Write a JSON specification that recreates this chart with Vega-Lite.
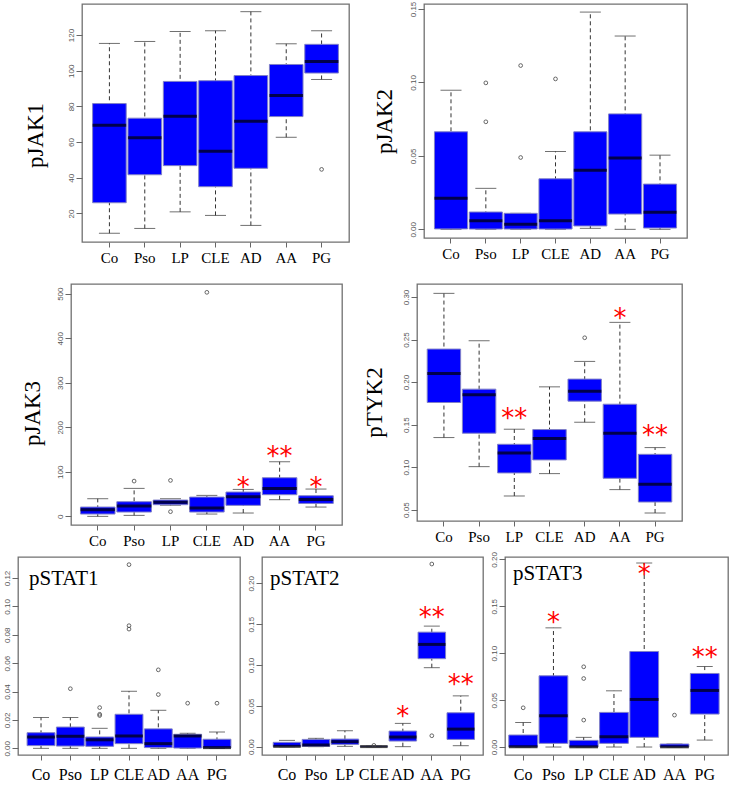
{
"$schema": "https://vega.github.io/schema/vega-lite/v6.json",
"padding": {"left": 2, "top": 0, "right": 2, "bottom": 2},
"background": "white",
"spacing": 1,
"config": {
  "view": {"stroke": "#707070", "strokeWidth": 1.3},
  "axisX": {"domain": false, "tickSize": 5, "tickColor": "#666666", "labelFont": "Liberation Serif", "labelFontSize": 15, "labelColor": "#000000", "labelAngle": 0, "labelPadding": 3, "grid": false},
  "axisY": {"domain": false, "tickSize": 6, "tickColor": "#666666", "labelAngle": -90, "labelFont": "Liberation Sans", "labelFontSize": 8, "labelColor": "#555555", "labelPadding": 1, "grid": false, "titleFont": "Liberation Serif", "titleFontSize": 23, "titleFontWeight": "normal", "titleColor": "#000000", "titleBaseline": "middle", "titleAlign": "center", "titleAngle": -90}
},
"datasets": {
  "boxes": [
    {"panel":"pJAK1","group":"Co","lo":8.9,"q1":26,"med":69.4,"q3":81.6,"hi":115.3},
    {"panel":"pJAK1","group":"Pso","lo":11.6,"q1":41.7,"med":62.5,"q3":73.4,"hi":116.4},
    {"panel":"pJAK1","group":"LP","lo":20.9,"q1":46.8,"med":74.5,"q3":94,"hi":122},
    {"panel":"pJAK1","group":"CLE","lo":18.9,"q1":35,"med":54.8,"q3":94.4,"hi":122.4},
    {"panel":"pJAK1","group":"AD","lo":13.3,"q1":45.3,"med":71.7,"q3":97.3,"hi":133.1},
    {"panel":"pJAK1","group":"AA","lo":62.7,"q1":74.3,"med":86.1,"q3":103.5,"hi":115.1},
    {"panel":"pJAK1","group":"PG","lo":95.1,"q1":98.7,"med":105.2,"q3":114.8,"hi":122.4},
    {"panel":"pJAK2","group":"Co","lo":0,"q1":0.0003,"med":0.0211,"q3":0.0664,"hi":0.0947},
    {"panel":"pJAK2","group":"Pso","lo":0,"q1":0.0002,"med":0.0059,"q3":0.0118,"hi":0.0279},
    {"panel":"pJAK2","group":"LP","lo":0,"q1":0.0002,"med":0.0034,"q3":0.0109,"hi":0.0109},
    {"panel":"pJAK2","group":"CLE","lo":0,"q1":0.0002,"med":0.0059,"q3":0.0344,"hi":0.053},
    {"panel":"pJAK2","group":"AD","lo":0.0007,"q1":0.0023,"med":0.0403,"q3":0.0664,"hi":0.1479},
    {"panel":"pJAK2","group":"AA","lo":0,"q1":0.0104,"med":0.0485,"q3":0.0786,"hi":0.1316},
    {"panel":"pJAK2","group":"PG","lo":0,"q1":0.0009,"med":0.0116,"q3":0.0308,"hi":0.0505},
    {"panel":"pJAK3","group":"Co","lo":0,"q1":5.2,"med":14.9,"q3":20.9,"hi":39.6},
    {"panel":"pJAK3","group":"Pso","lo":2.2,"q1":9.7,"med":23.2,"q3":32.9,"hi":62.8},
    {"panel":"pJAK3","group":"LP","lo":25,"q1":26.2,"med":31.4,"q3":36.6,"hi":39.6},
    {"panel":"pJAK3","group":"CLE","lo":5.2,"q1":9.7,"med":18.7,"q3":43.3,"hi":47.1},
    {"panel":"pJAK3","group":"AD","lo":7.5,"q1":24.7,"med":44.1,"q3":54.6,"hi":60.5},
    {"panel":"pJAK3","group":"AA","lo":37.4,"q1":48.6,"med":62.8,"q3":86.7,"hi":122.6},
    {"panel":"pJAK3","group":"PG","lo":20.9,"q1":29.1,"med":38.1,"q3":46.3,"hi":61.3},
    {"panel":"pTYK2","group":"Co","lo":0.1348,"q1":0.176,"med":0.2101,"q3":0.2388,"hi":0.3043},
    {"panel":"pTYK2","group":"Pso","lo":0.1006,"q1":0.1399,"med":0.185,"q3":0.1917,"hi":0.2486},
    {"panel":"pTYK2","group":"LP","lo":0.0661,"q1":0.0932,"med":0.1167,"q3":0.1269,"hi":0.1446},
    {"panel":"pTYK2","group":"CLE","lo":0.0924,"q1":0.1085,"med":0.1336,"q3":0.1442,"hi":0.1944},
    {"panel":"pTYK2","group":"AD","lo":0.1528,"q1":0.1776,"med":0.1893,"q3":0.2035,"hi":0.2243},
    {"panel":"pTYK2","group":"AA","lo":0.0736,"q1":0.0869,"med":0.1399,"q3":0.174,"hi":0.2702},
    {"panel":"pTYK2","group":"PG","lo":0.0461,"q1":0.059,"med":0.0798,"q3":0.1151,"hi":0.123},
    {"panel":"pSTAT1","group":"Co","lo":0,"q1":0.0019,"med":0.008,"q3":0.011,"hi":0.0217},
    {"panel":"pSTAT1","group":"Pso","lo":0,"q1":0.0016,"med":0.0085,"q3":0.015,"hi":0.0217},
    {"panel":"pSTAT1","group":"LP","lo":0,"q1":0.0014,"med":0.006,"q3":0.008,"hi":0.0141},
    {"panel":"pSTAT1","group":"CLE","lo":0,"q1":0.0033,"med":0.0087,"q3":0.024,"hi":0.0402},
    {"panel":"pSTAT1","group":"AD","lo":0,"q1":0.0005,"med":0.0033,"q3":0.0137,"hi":0.0268},
    {"panel":"pSTAT1","group":"AA","lo":0,"q1":0.0002,"med":0.0087,"q3":0.0099,"hi":0.0106},
    {"panel":"pSTAT1","group":"PG","lo":0,"q1":0.0002,"med":0.0005,"q3":0.0064,"hi":0.0115},
    {"panel":"pSTAT2","group":"Co","lo":0,"q1":0,"med":0.0004,"q3":0.0053,"hi":0.0077},
    {"panel":"pSTAT2","group":"Pso","lo":0,"q1":0.0002,"med":0.002,"q3":0.0089,"hi":0.0102},
    {"panel":"pSTAT2","group":"LP","lo":0.0004,"q1":0.0028,"med":0.0061,"q3":0.0093,"hi":0.0195},
    {"panel":"pSTAT2","group":"CLE","lo":0,"q1":0,"med":0.0001,"q3":0.0005,"hi":0.0005},
    {"panel":"pSTAT2","group":"AD","lo":0,"q1":0.0069,"med":0.0118,"q3":0.0191,"hi":0.0285},
    {"panel":"pSTAT2","group":"AA","lo":0.0967,"q1":0.1077,"med":0.1252,"q3":0.1402,"hi":0.1476},
    {"panel":"pSTAT2","group":"PG","lo":0.0012,"q1":0.0089,"med":0.0215,"q3":0.0415,"hi":0.0622},
    {"panel":"pSTAT3","group":"Co","lo":0,"q1":0,"med":0.0002,"q3":0.0128,"hi":0.0262},
    {"panel":"pSTAT3","group":"Pso","lo":0,"q1":0.0039,"med":0.0333,"q3":0.0759,"hi":0.127},
    {"panel":"pSTAT3","group":"LP","lo":0,"q1":0,"med":0.0002,"q3":0.0071,"hi":0.0103},
    {"panel":"pSTAT3","group":"CLE","lo":0,"q1":0.0039,"med":0.011,"q3":0.0369,"hi":0.0599},
    {"panel":"pSTAT3","group":"AD","lo":0,"q1":0.0103,"med":0.0507,"q3":0.1018,"hi":0.1961},
    {"panel":"pSTAT3","group":"AA","lo":0,"q1":0,"med":0.0002,"q3":0.0032,"hi":0.0032},
    {"panel":"pSTAT3","group":"PG","lo":0.0074,"q1":0.0351,"med":0.0603,"q3":0.0784,"hi":0.0858}
  ],
  "outliers": [
    {"panel":"pJAK1","group":"PG","v":44.7},
    {"panel":"pJAK2","group":"Pso","v":0.0997},
    {"panel":"pJAK2","group":"Pso","v":0.0732},
    {"panel":"pJAK2","group":"LP","v":0.1115},
    {"panel":"pJAK2","group":"LP","v":0.0489},
    {"panel":"pJAK2","group":"CLE","v":0.1024},
    {"panel":"pJAK3","group":"Pso","v":79.2},
    {"panel":"pJAK3","group":"LP","v":80.7},
    {"panel":"pJAK3","group":"LP","v":10.5},
    {"panel":"pJAK3","group":"CLE","v":503},
    {"panel":"pTYK2","group":"AD","v":0.2521},
    {"panel":"pSTAT1","group":"Pso","v":0.042},
    {"panel":"pSTAT1","group":"LP","v":0.0287},
    {"panel":"pSTAT1","group":"LP","v":0.024},
    {"panel":"pSTAT1","group":"LP","v":0.0231},
    {"panel":"pSTAT1","group":"CLE","v":0.1294},
    {"panel":"pSTAT1","group":"CLE","v":0.0864},
    {"panel":"pSTAT1","group":"CLE","v":0.084},
    {"panel":"pSTAT1","group":"AD","v":0.0553},
    {"panel":"pSTAT1","group":"AD","v":0.0379},
    {"panel":"pSTAT1","group":"AA","v":0.0318},
    {"panel":"pSTAT1","group":"PG","v":0.0318},
    {"panel":"pSTAT2","group":"CLE","v":0.0016},
    {"panel":"pSTAT2","group":"AA","v":0.2236},
    {"panel":"pSTAT2","group":"AA","v":0.0134},
    {"panel":"pSTAT3","group":"Co","v":0.0418},
    {"panel":"pSTAT3","group":"LP","v":0.0855},
    {"panel":"pSTAT3","group":"LP","v":0.073},
    {"panel":"pSTAT3","group":"LP","v":0.0287},
    {"panel":"pSTAT3","group":"AA","v":0.034}
  ],
  "stars": [
    {"panel":"pJAK3","group":"AD","v":80,"label":"*"},
    {"panel":"pJAK3","group":"AA","v":150,"label":"**"},
    {"panel":"pJAK3","group":"PG","v":80,"label":"*"},
    {"panel":"pTYK2","group":"LP","v":0.165,"label":"**"},
    {"panel":"pTYK2","group":"AA","v":0.2827,"label":"*"},
    {"panel":"pTYK2","group":"PG","v":0.145,"label":"**"},
    {"panel":"pSTAT2","group":"AD","v":0.0447,"label":"*"},
    {"panel":"pSTAT2","group":"AA","v":0.1667,"label":"**"},
    {"panel":"pSTAT2","group":"PG","v":0.0841,"label":"**"},
    {"panel":"pSTAT3","group":"Pso","v":0.1397,"label":"*"},
    {"panel":"pSTAT3","group":"AD","v":0.1908,"label":"*"},
    {"panel":"pSTAT3","group":"PG","v":0.1025,"label":"**"}
  ]
},
"vconcat": [
 {"spacing": 3, "hconcat": [
  {"width": 2, "height": 278, "data": {"values": []}, "mark": {"type": "point", "opacity": 0}, "view": {"fill": "transparent", "stroke": null}},
  {"bounds": "flush", "spacing": 75, "hconcat": [
    {"width": 267, "height": 238, "data": {"name": "boxes"}, "transform": [{"filter": "datum.panel === 'pJAK1'"}],
     "encoding": {"x": {"field": "group", "type": "nominal", "sort": ["Co","Pso","LP","CLE","AD","AA","PG"], "scale": {"domain": ["Co","Pso","LP","CLE","AD","AA","PG"], "paddingInner": 0.05, "paddingOuter": 0.3, "align": 0.5}, "axis": {"title": null}}},
     "layer": [
      {"mark": {"type": "rule", "strokeDash": [4,3], "color": "#333333", "strokeWidth": 1}, "encoding": {"y": {"field": "lo", "type": "quantitative", "scale": {"domain": [4,137.4], "nice": false, "zero": false}, "axis": {"values": [20,40,60,80,100,120], "title": "pJAK1", "titleX": -47, "titleY": 131}}, "y2": {"field": "hi"}}},
      {"mark": {"type": "tick", "color": "#333333", "size": 21, "thickness": 1}, "encoding": {"y": {"field": "lo", "type": "quantitative", "scale": {"domain": [4,137.4], "nice": false, "zero": false}, "axis": {"values": [20,40,60,80,100,120], "title": "pJAK1", "titleX": -47, "titleY": 131}}}},
      {"mark": {"type": "tick", "color": "#333333", "size": 21, "thickness": 1}, "encoding": {"y": {"field": "hi", "type": "quantitative", "scale": {"domain": [4,137.4], "nice": false, "zero": false}, "axis": {"values": [20,40,60,80,100,120], "title": "pJAK1", "titleX": -47, "titleY": 131}}}},
      {"mark": {"type": "bar", "fill": "#0000FF", "stroke": "#8080c8", "strokeWidth": 1}, "encoding": {"y": {"field": "q1", "type": "quantitative", "scale": {"domain": [4,137.4], "nice": false, "zero": false}, "axis": {"values": [20,40,60,80,100,120], "title": "pJAK1", "titleX": -47, "titleY": 131}}, "y2": {"field": "q3"}}},
      {"mark": {"type": "tick", "color": "#000000", "size": 33.6, "thickness": 3}, "encoding": {"y": {"field": "med", "type": "quantitative", "scale": {"domain": [4,137.4], "nice": false, "zero": false}, "axis": {"values": [20,40,60,80,100,120], "title": "pJAK1", "titleX": -47, "titleY": 131}}}},
      {"data": {"name": "outliers"}, "transform": [{"filter": "datum.panel === 'pJAK1'"}], "mark": {"type": "point", "shape": "circle", "filled": false, "color": "#444444", "size": 14, "strokeWidth": 0.8, "opacity": 1}, "encoding": {"y": {"field": "v", "type": "quantitative", "scale": {"domain": [4,137.4], "nice": false, "zero": false}, "axis": {"values": [20,40,60,80,100,120], "title": "pJAK1", "titleX": -47, "titleY": 131}}}}
     ]},
    {"width": 263, "height": 234, "data": {"name": "boxes"}, "transform": [{"filter": "datum.panel === 'pJAK2'"}],
     "encoding": {"x": {"field": "group", "type": "nominal", "sort": ["Co","Pso","LP","CLE","AD","AA","PG"], "scale": {"domain": ["Co","Pso","LP","CLE","AD","AA","PG"], "paddingInner": 0.05, "paddingOuter": 0.3, "align": 0.5}, "axis": {"title": null}}},
     "layer": [
      {"mark": {"type": "rule", "strokeDash": [4,3], "color": "#333333", "strokeWidth": 1}, "encoding": {"y": {"field": "lo", "type": "quantitative", "scale": {"domain": [-0.0059,0.1534], "nice": false, "zero": false}, "axis": {"values": [0,0.05,0.1,0.15], "format": ".2f", "title": "pJAK2", "titleX": -40, "titleY": 117}}, "y2": {"field": "hi"}}},
      {"mark": {"type": "tick", "color": "#333333", "size": 21, "thickness": 1}, "encoding": {"y": {"field": "lo", "type": "quantitative", "scale": {"domain": [-0.0059,0.1534], "nice": false, "zero": false}, "axis": {"values": [0,0.05,0.1,0.15], "format": ".2f", "title": "pJAK2", "titleX": -40, "titleY": 117}}}},
      {"mark": {"type": "tick", "color": "#333333", "size": 21, "thickness": 1}, "encoding": {"y": {"field": "hi", "type": "quantitative", "scale": {"domain": [-0.0059,0.1534], "nice": false, "zero": false}, "axis": {"values": [0,0.05,0.1,0.15], "format": ".2f", "title": "pJAK2", "titleX": -40, "titleY": 117}}}},
      {"mark": {"type": "bar", "fill": "#0000FF", "stroke": "#8080c8", "strokeWidth": 1}, "encoding": {"y": {"field": "q1", "type": "quantitative", "scale": {"domain": [-0.0059,0.1534], "nice": false, "zero": false}, "axis": {"values": [0,0.05,0.1,0.15], "format": ".2f", "title": "pJAK2", "titleX": -40, "titleY": 117}}, "y2": {"field": "q3"}}},
      {"mark": {"type": "tick", "color": "#000000", "size": 33.1, "thickness": 3}, "encoding": {"y": {"field": "med", "type": "quantitative", "scale": {"domain": [-0.0059,0.1534], "nice": false, "zero": false}, "axis": {"values": [0,0.05,0.1,0.15], "format": ".2f", "title": "pJAK2", "titleX": -40, "titleY": 117}}}},
      {"data": {"name": "outliers"}, "transform": [{"filter": "datum.panel === 'pJAK2'"}], "mark": {"type": "point", "shape": "circle", "filled": false, "color": "#444444", "size": 14, "strokeWidth": 0.8, "opacity": 1}, "encoding": {"y": {"field": "v", "type": "quantitative", "scale": {"domain": [-0.0059,0.1534], "nice": false, "zero": false}, "axis": {"values": [0,0.05,0.1,0.15], "format": ".2f", "title": "pJAK2", "titleX": -40, "titleY": 117}}}}
     ]}
  ]}
 ]},
 {"spacing": 1, "hconcat": [
  {"width": 1, "height": 265, "data": {"values": []}, "mark": {"type": "point", "opacity": 0}, "view": {"fill": "transparent", "stroke": null}},
  {"bounds": "flush", "spacing": 75, "hconcat": [
    {"width": 271, "height": 241, "data": {"name": "boxes"}, "transform": [{"filter": "datum.panel === 'pJAK3'"}],
     "encoding": {"x": {"field": "group", "type": "nominal", "sort": ["Co","Pso","LP","CLE","AD","AA","PG"], "scale": {"domain": ["Co","Pso","LP","CLE","AD","AA","PG"], "paddingInner": 0.05, "paddingOuter": 0.25, "align": 0.52}, "axis": {"title": null}}},
     "layer": [
      {"mark": {"type": "rule", "strokeDash": [4,3], "color": "#333333", "strokeWidth": 1}, "encoding": {"y": {"field": "lo", "type": "quantitative", "scale": {"domain": [-19.4,521.7], "nice": false, "zero": false}, "axis": {"values": [0,100,200,300,400,500], "title": "pJAK3", "titleX": -39, "titleY": 129}}, "y2": {"field": "hi"}}},
      {"mark": {"type": "tick", "color": "#333333", "size": 21, "thickness": 1}, "encoding": {"y": {"field": "lo", "type": "quantitative", "scale": {"domain": [-19.4,521.7], "nice": false, "zero": false}, "axis": {"values": [0,100,200,300,400,500], "title": "pJAK3", "titleX": -39, "titleY": 129}}}},
      {"mark": {"type": "tick", "color": "#333333", "size": 21, "thickness": 1}, "encoding": {"y": {"field": "hi", "type": "quantitative", "scale": {"domain": [-19.4,521.7], "nice": false, "zero": false}, "axis": {"values": [0,100,200,300,400,500], "title": "pJAK3", "titleX": -39, "titleY": 129}}}},
      {"mark": {"type": "bar", "fill": "#0000FF", "stroke": "#8080c8", "strokeWidth": 1}, "encoding": {"y": {"field": "q1", "type": "quantitative", "scale": {"domain": [-19.4,521.7], "nice": false, "zero": false}, "axis": {"values": [0,100,200,300,400,500], "title": "pJAK3", "titleX": -39, "titleY": 129}}, "y2": {"field": "q3"}}},
      {"mark": {"type": "tick", "color": "#000000", "size": 34.5, "thickness": 3}, "encoding": {"y": {"field": "med", "type": "quantitative", "scale": {"domain": [-19.4,521.7], "nice": false, "zero": false}, "axis": {"values": [0,100,200,300,400,500], "title": "pJAK3", "titleX": -39, "titleY": 129}}}},
      {"data": {"name": "outliers"}, "transform": [{"filter": "datum.panel === 'pJAK3'"}], "mark": {"type": "point", "shape": "circle", "filled": false, "color": "#444444", "size": 14, "strokeWidth": 0.8, "opacity": 1}, "encoding": {"y": {"field": "v", "type": "quantitative", "scale": {"domain": [-19.4,521.7], "nice": false, "zero": false}, "axis": {"values": [0,100,200,300,400,500], "title": "pJAK3", "titleX": -39, "titleY": 129}}}},
      {"data": {"name": "stars"}, "transform": [{"filter": "datum.panel === 'pJAK3'"}], "mark": {"type": "text", "font": "DejaVu Sans", "fontSize": 26, "color": "#FF0000", "baseline": "alphabetic", "dy": 15}, "encoding": {"y": {"field": "v", "type": "quantitative", "scale": {"domain": [-19.4,521.7], "nice": false, "zero": false}, "axis": {"values": [0,100,200,300,400,500], "title": "pJAK3", "titleX": -39, "titleY": 129}}, "text": {"field": "label"}}}
     ]},
    {"width": 265, "height": 237, "data": {"name": "boxes"}, "transform": [{"filter": "datum.panel === 'pTYK2'"}],
     "encoding": {"x": {"field": "group", "type": "nominal", "sort": ["Co","Pso","LP","CLE","AD","AA","PG"], "scale": {"domain": ["Co","Pso","LP","CLE","AD","AA","PG"], "paddingInner": 0.05, "paddingOuter": 0.29, "align": 0.5}, "axis": {"title": null}}},
     "layer": [
      {"mark": {"type": "rule", "strokeDash": [4,3], "color": "#333333", "strokeWidth": 1}, "encoding": {"y": {"field": "lo", "type": "quantitative", "scale": {"domain": [0.0367,0.3153], "nice": false, "zero": false}, "axis": {"values": [0.05,0.1,0.15,0.2,0.25,0.3], "format": ".2f", "title": "pTYK2", "titleX": -43, "titleY": 118}}, "y2": {"field": "hi"}}},
      {"mark": {"type": "tick", "color": "#333333", "size": 21, "thickness": 1}, "encoding": {"y": {"field": "lo", "type": "quantitative", "scale": {"domain": [0.0367,0.3153], "nice": false, "zero": false}, "axis": {"values": [0.05,0.1,0.15,0.2,0.25,0.3], "format": ".2f", "title": "pTYK2", "titleX": -43, "titleY": 118}}}},
      {"mark": {"type": "tick", "color": "#333333", "size": 21, "thickness": 1}, "encoding": {"y": {"field": "hi", "type": "quantitative", "scale": {"domain": [0.0367,0.3153], "nice": false, "zero": false}, "axis": {"values": [0.05,0.1,0.15,0.2,0.25,0.3], "format": ".2f", "title": "pTYK2", "titleX": -43, "titleY": 118}}}},
      {"mark": {"type": "bar", "fill": "#0000FF", "stroke": "#8080c8", "strokeWidth": 1}, "encoding": {"y": {"field": "q1", "type": "quantitative", "scale": {"domain": [0.0367,0.3153], "nice": false, "zero": false}, "axis": {"values": [0.05,0.1,0.15,0.2,0.25,0.3], "format": ".2f", "title": "pTYK2", "titleX": -43, "titleY": 118}}, "y2": {"field": "q3"}}},
      {"mark": {"type": "tick", "color": "#000000", "size": 33.4, "thickness": 3}, "encoding": {"y": {"field": "med", "type": "quantitative", "scale": {"domain": [0.0367,0.3153], "nice": false, "zero": false}, "axis": {"values": [0.05,0.1,0.15,0.2,0.25,0.3], "format": ".2f", "title": "pTYK2", "titleX": -43, "titleY": 118}}}},
      {"data": {"name": "outliers"}, "transform": [{"filter": "datum.panel === 'pTYK2'"}], "mark": {"type": "point", "shape": "circle", "filled": false, "color": "#444444", "size": 14, "strokeWidth": 0.8, "opacity": 1}, "encoding": {"y": {"field": "v", "type": "quantitative", "scale": {"domain": [0.0367,0.3153], "nice": false, "zero": false}, "axis": {"values": [0.05,0.1,0.15,0.2,0.25,0.3], "format": ".2f", "title": "pTYK2", "titleX": -43, "titleY": 118}}}},
      {"data": {"name": "stars"}, "transform": [{"filter": "datum.panel === 'pTYK2'"}], "mark": {"type": "text", "font": "DejaVu Sans", "fontSize": 26, "color": "#FF0000", "baseline": "alphabetic", "dy": 15}, "encoding": {"y": {"field": "v", "type": "quantitative", "scale": {"domain": [0.0367,0.3153], "nice": false, "zero": false}, "axis": {"values": [0.05,0.1,0.15,0.2,0.25,0.3], "format": ".2f", "title": "pTYK2", "titleX": -43, "titleY": 118}}, "text": {"field": "label"}}}
     ]}
  ]}
 ]},
 {"bounds": "flush", "spacing": 22, "hconcat": [
  {"width": 222, "height": 198, "data": {"name": "boxes"}, "transform": [{"filter": "datum.panel === 'pSTAT1'"}],
   "title": {"text": "pSTAT1", "anchor": "start", "frame": "group", "offset": -32, "dx": 11, "font": "Liberation Serif", "fontSize": 21, "fontWeight": "normal", "color": "#000000"},
   "encoding": {"x": {"field": "group", "type": "nominal", "sort": ["Co","Pso","LP","CLE","AD","AA","PG"], "scale": {"domain": ["Co","Pso","LP","CLE","AD","AA","PG"], "paddingInner": 0.05, "paddingOuter": 0.31, "align": 0.5}, "axis": {"title": null, "labelFontSize": 16, "labelPadding": 6}}},
   "layer": [
    {"mark": {"type": "rule", "strokeDash": [4,3], "color": "#333333", "strokeWidth": 1}, "encoding": {"y": {"field": "lo", "type": "quantitative", "scale": {"domain": [-0.0047,0.1348], "nice": false, "zero": false}, "axis": {"values": [0,0.02,0.04,0.06,0.08,0.1,0.12], "format": ".2f", "title": null}}, "y2": {"field": "hi"}}},
    {"mark": {"type": "tick", "color": "#333333", "size": 16, "thickness": 1}, "encoding": {"y": {"field": "lo", "type": "quantitative", "scale": {"domain": [-0.0047,0.1348], "nice": false, "zero": false}, "axis": {"values": [0,0.02,0.04,0.06,0.08,0.1,0.12], "format": ".2f", "title": null}}}},
    {"mark": {"type": "tick", "color": "#333333", "size": 16, "thickness": 1}, "encoding": {"y": {"field": "hi", "type": "quantitative", "scale": {"domain": [-0.0047,0.1348], "nice": false, "zero": false}, "axis": {"values": [0,0.02,0.04,0.06,0.08,0.1,0.12], "format": ".2f", "title": null}}}},
    {"mark": {"type": "bar", "fill": "#0000FF", "stroke": "#8080c8", "strokeWidth": 1}, "encoding": {"y": {"field": "q1", "type": "quantitative", "scale": {"domain": [-0.0047,0.1348], "nice": false, "zero": false}, "axis": {"values": [0,0.02,0.04,0.06,0.08,0.1,0.12], "format": ".2f", "title": null}}, "y2": {"field": "q3"}}},
    {"mark": {"type": "tick", "color": "#000000", "size": 27.9, "thickness": 3}, "encoding": {"y": {"field": "med", "type": "quantitative", "scale": {"domain": [-0.0047,0.1348], "nice": false, "zero": false}, "axis": {"values": [0,0.02,0.04,0.06,0.08,0.1,0.12], "format": ".2f", "title": null}}}},
    {"data": {"name": "outliers"}, "transform": [{"filter": "datum.panel === 'pSTAT1'"}], "mark": {"type": "point", "shape": "circle", "filled": false, "color": "#444444", "size": 14, "strokeWidth": 0.8, "opacity": 1}, "encoding": {"y": {"field": "v", "type": "quantitative", "scale": {"domain": [-0.0047,0.1348], "nice": false, "zero": false}, "axis": {"values": [0,0.02,0.04,0.06,0.08,0.1,0.12], "format": ".2f", "title": null}}}}
   ]},
  {"width": 221, "height": 198, "data": {"name": "boxes"}, "transform": [{"filter": "datum.panel === 'pSTAT2'"}],
   "title": {"text": "pSTAT2", "anchor": "start", "frame": "group", "offset": -32, "dx": 8, "font": "Liberation Serif", "fontSize": 21, "fontWeight": "normal", "color": "#000000"},
   "encoding": {"x": {"field": "group", "type": "nominal", "sort": ["Co","Pso","LP","CLE","AD","AA","PG"], "scale": {"domain": ["Co","Pso","LP","CLE","AD","AA","PG"], "paddingInner": 0.05, "paddingOuter": 0.34, "align": 0.57}, "axis": {"title": null, "labelFontSize": 16, "labelPadding": 6}}},
   "layer": [
    {"mark": {"type": "rule", "strokeDash": [4,3], "color": "#333333", "strokeWidth": 1}, "encoding": {"y": {"field": "lo", "type": "quantitative", "scale": {"domain": [-0.0102,0.2322], "nice": false, "zero": false}, "axis": {"values": [0,0.05,0.1,0.15,0.2], "format": ".2f", "title": null}}, "y2": {"field": "hi"}}},
    {"mark": {"type": "tick", "color": "#333333", "size": 16, "thickness": 1}, "encoding": {"y": {"field": "lo", "type": "quantitative", "scale": {"domain": [-0.0102,0.2322], "nice": false, "zero": false}, "axis": {"values": [0,0.05,0.1,0.15,0.2], "format": ".2f", "title": null}}}},
    {"mark": {"type": "tick", "color": "#333333", "size": 16, "thickness": 1}, "encoding": {"y": {"field": "hi", "type": "quantitative", "scale": {"domain": [-0.0102,0.2322], "nice": false, "zero": false}, "axis": {"values": [0,0.05,0.1,0.15,0.2], "format": ".2f", "title": null}}}},
    {"mark": {"type": "bar", "fill": "#0000FF", "stroke": "#8080c8", "strokeWidth": 1}, "encoding": {"y": {"field": "q1", "type": "quantitative", "scale": {"domain": [-0.0102,0.2322], "nice": false, "zero": false}, "axis": {"values": [0,0.05,0.1,0.15,0.2], "format": ".2f", "title": null}}, "y2": {"field": "q3"}}},
    {"mark": {"type": "tick", "color": "#000000", "size": 27.5, "thickness": 3}, "encoding": {"y": {"field": "med", "type": "quantitative", "scale": {"domain": [-0.0102,0.2322], "nice": false, "zero": false}, "axis": {"values": [0,0.05,0.1,0.15,0.2], "format": ".2f", "title": null}}}},
    {"data": {"name": "outliers"}, "transform": [{"filter": "datum.panel === 'pSTAT2'"}], "mark": {"type": "point", "shape": "circle", "filled": false, "color": "#444444", "size": 14, "strokeWidth": 0.8, "opacity": 1}, "encoding": {"y": {"field": "v", "type": "quantitative", "scale": {"domain": [-0.0102,0.2322], "nice": false, "zero": false}, "axis": {"values": [0,0.05,0.1,0.15,0.2], "format": ".2f", "title": null}}}},
    {"data": {"name": "stars"}, "transform": [{"filter": "datum.panel === 'pSTAT2'"}], "mark": {"type": "text", "font": "DejaVu Sans", "fontSize": 26, "color": "#FF0000", "baseline": "alphabetic", "dy": 15}, "encoding": {"y": {"field": "v", "type": "quantitative", "scale": {"domain": [-0.0102,0.2322], "nice": false, "zero": false}, "axis": {"values": [0,0.05,0.1,0.15,0.2], "format": ".2f", "title": null}}, "text": {"field": "label"}}}
   ]},
  {"width": 223, "height": 198, "data": {"name": "boxes"}, "transform": [{"filter": "datum.panel === 'pSTAT3'"}],
   "title": {"text": "pSTAT3", "anchor": "start", "frame": "group", "offset": -32, "dx": 8, "font": "Liberation Serif", "fontSize": 21, "fontWeight": "normal", "color": "#000000"},
   "encoding": {"x": {"field": "group", "type": "nominal", "sort": ["Co","Pso","LP","CLE","AD","AA","PG"], "scale": {"domain": ["Co","Pso","LP","CLE","AD","AA","PG"], "paddingInner": 0.05, "paddingOuter": 0.21, "align": 0.3}, "axis": {"title": null, "labelFontSize": 16, "labelPadding": 6}}},
   "layer": [
    {"mark": {"type": "rule", "strokeDash": [4,3], "color": "#333333", "strokeWidth": 1}, "encoding": {"y": {"field": "lo", "type": "quantitative", "scale": {"domain": [-0.0085,0.2025], "nice": false, "zero": false}, "axis": {"values": [0,0.05,0.1,0.15,0.2], "format": ".2f", "title": null}}, "y2": {"field": "hi"}}},
    {"mark": {"type": "tick", "color": "#333333", "size": 16, "thickness": 1}, "encoding": {"y": {"field": "lo", "type": "quantitative", "scale": {"domain": [-0.0085,0.2025], "nice": false, "zero": false}, "axis": {"values": [0,0.05,0.1,0.15,0.2], "format": ".2f", "title": null}}}},
    {"mark": {"type": "tick", "color": "#333333", "size": 16, "thickness": 1}, "encoding": {"y": {"field": "hi", "type": "quantitative", "scale": {"domain": [-0.0085,0.2025], "nice": false, "zero": false}, "axis": {"values": [0,0.05,0.1,0.15,0.2], "format": ".2f", "title": null}}}},
    {"mark": {"type": "bar", "fill": "#0000FF", "stroke": "#8080c8", "strokeWidth": 1}, "encoding": {"y": {"field": "q1", "type": "quantitative", "scale": {"domain": [-0.0085,0.2025], "nice": false, "zero": false}, "axis": {"values": [0,0.05,0.1,0.15,0.2], "format": ".2f", "title": null}}, "y2": {"field": "q3"}}},
    {"mark": {"type": "tick", "color": "#000000", "size": 28.7, "thickness": 3}, "encoding": {"y": {"field": "med", "type": "quantitative", "scale": {"domain": [-0.0085,0.2025], "nice": false, "zero": false}, "axis": {"values": [0,0.05,0.1,0.15,0.2], "format": ".2f", "title": null}}}},
    {"data": {"name": "outliers"}, "transform": [{"filter": "datum.panel === 'pSTAT3'"}], "mark": {"type": "point", "shape": "circle", "filled": false, "color": "#444444", "size": 14, "strokeWidth": 0.8, "opacity": 1}, "encoding": {"y": {"field": "v", "type": "quantitative", "scale": {"domain": [-0.0085,0.2025], "nice": false, "zero": false}, "axis": {"values": [0,0.05,0.1,0.15,0.2], "format": ".2f", "title": null}}}},
    {"data": {"name": "stars"}, "transform": [{"filter": "datum.panel === 'pSTAT3'"}], "mark": {"type": "text", "font": "DejaVu Sans", "fontSize": 26, "color": "#FF0000", "baseline": "alphabetic", "dy": 15}, "encoding": {"y": {"field": "v", "type": "quantitative", "scale": {"domain": [-0.0085,0.2025], "nice": false, "zero": false}, "axis": {"values": [0,0.05,0.1,0.15,0.2], "format": ".2f", "title": null}}, "text": {"field": "label"}}}
   ]}
 ]}
]
}
